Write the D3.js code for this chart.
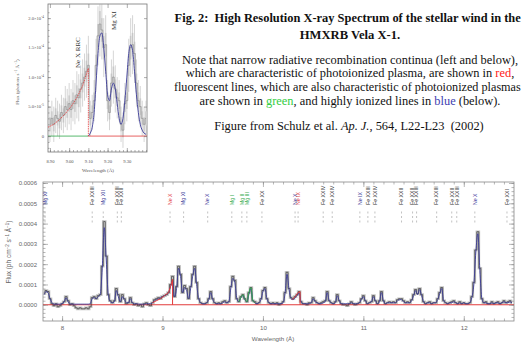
<!DOCTYPE html>
<html><head><meta charset="utf-8">
<script src="https://cdn.jsdelivr.net/npm/d3@7"></script>
<style>
html,body{margin:0;padding:0;background:#fff;}
svg{display:block;}
</style></head>
<body>
<svg id="fig" width="523" height="346"></svg>
<script>
// ===== DATA (flux in units of 1e-5 ph cm^-2 s^-1 A^-1) =====
// main spectrum: bins of 0.02 A starting at 7.82 A
const specStart = 7.82, specStep = 0.02;
const specFlux = [
 5.5,7,6.5,3,0.5,-0.5,0.5,-1,-0.5,0.5,
 1.5,4,2,0,0.5,-0.5,-1.5,-2,-1.5,-2,
 -2,-1.5,-2,-1,3.5,4,3,4.5,5,19,
 41,24,5,2,1,2,8,5,1.5,5,
 3,0.5,1,3.5,1,0,0.5,-0.5,0,-1,
 0.5,1,0,-0.5,1,2.5,3,3.5,3,4,
 4.5,5,6,10,14,4,9,19,15,6,
 9.5,8,3,9,15,19,11,3,1,0.5,
 0.5,1,3,6.5,3,1,0.5,1,0.5,1.5,
 2,1,1.5,9,14,12,3,1.5,4,5,
 3,1.5,6,8.5,2,1.5,0.5,1,3,7,
 8.5,3,1,0.5,1,0.5,1,0,0.5,1.5,
 6,16,8,3.5,3,4,5,6.5,1.5,0.5,
 0.5,0,1,1,3.5,2,1,0.5,1,1.5,
 2,6.5,2,1,0.5,1.5,5,2,0.5,0,
 0,-0.5,0.5,1.5,0.5,0,0.5,1,3,4.5,
 2,0.5,1,1.5,4.5,2,0.5,2,6.5,2,
 0.5,1,1.5,1,1.5,1,2.5,3,3,2,
 1,1.5,1,2.5,5,7.5,5.5,8,5,1.5,
 0.5,1,1.5,0.5,1,1,3,6,8.5,2,
 1,0.5,1,1.5,2,1,0.5,1.5,0.5,1,
 0.5,0.5,1,4,11,27,36,18,3,1,
 1.5,0.5,0.5,1.5,0.5,1,1.5,0.5,1,2,
 1,1.5,2,1
];
const modelFlux = [
 5,6.5,6,3,1,0.3,0.3,0.3,0.3,0.5,
 1.5,3.5,1.5,0.5,0.3,0.3,0.3,0.3,0.3,0.3,
 0.3,0.3,0.3,0.5,3,3.5,3,4,5,18,
 38,22,5,1.5,1,1.5,7,4,1.5,4,
 2.5,1,1,3,1,0.5,0.5,0.3,0.3,0.3,
 0.3,0.5,0.5,0.5,1,2,2.5,3,3.5,4,
 4.5,5,6,9,12,4,8,18,14,6,
 8.5,7,3,8,14,18,10,3,1,0.5,
 0.5,1,2.5,6,2.5,1,0.5,0.5,0.5,1,
 1.5,1,1.5,8,13,11,3,1.5,3.5,4.5,
 2.5,1.5,5,8,2,1,0.5,1,2.5,6.5,
 8,3,1,0.5,0.5,0.5,0.5,0.5,0.5,1,
 5.5,15,7.5,3,2.5,3.5,4.5,6,1.5,0.5,
 0.5,0.5,0.5,1,3,1.5,1,0.5,0.5,1,
 1.5,6,2,1,0.5,1,4.5,2,0.5,0.5,
 0.5,0.5,0.5,1,0.5,0.5,0.5,1,2.5,4,
 2,0.5,1,1.5,4,2,0.5,1.5,6,2,
 0.5,1,1,1,1,1,2,2.5,2.5,1.5,
 1,1,1,2,4.5,7,5,7.5,4.5,1.5,
 0.5,1,1,0.5,1,1,2.5,5.5,8,2,
 1,0.5,1,1,1.5,1,0.5,1,0.5,1,
 0.5,0.5,1,3.5,10,26,35,17,3,1,
 1,0.5,0.5,1,0.5,1,1,0.5,1,1.5,
 1,1,1.5,1
];
// radiative recombination continua (red) and fluorescent lines (green)
const rrcNeXWave = [8.90,8.94,8.98,9.02,9.06,9.08,9.10,9.10];
const rrcNeXFlux = [1,2,3,4.5,6,9,12.5,0];
const rrcNeIXWave = [10.29,10.32,10.35,10.37,10.37];
const rrcNeIXFlux = [2.5,4,6,6.5,0];
const fluorWave = [9.76,9.78,9.80,9.82,9.84,9.86,9.88,9.90,9.92];
const fluorFlux = [1.5,3.5,5,3,1.5,6,8.5,2,1];
const continuumWave = [7.81,12.5];
const continuumFlux = [0,0];
// line identifications
const labelText = ["Mg XI","Fe XXIII","Mg XII","Fe XXIII","Fe XXII","Ne X","Mg XI","Ne X","Mg I","Mg II","Mg III","Fe XX","Ne X","Ne IX","Fe XXIV","Fe XXIV","Ne IX","Fe XXIII","Fe XXIV","Fe XXII","Fe XXII","Fe XXIII","Fe XXIII","Fe XXII","Fe XXIII","Ne X","Fe XXI"];
const labelWave = [7.83,8.30,8.41,8.55,8.59,9.075,9.21,9.45,9.69,9.79,9.84,9.99,10.32,10.35,10.60,10.69,10.965,11.045,11.115,11.38,11.49,11.53,11.73,11.88,11.93,12.11,12.43];
const labelKind = ["hi","fe","hi","fe","fe","rrc","hi","hi","fl","fl","fl","fe","hi","rrc","fe","fe","hi","fe","fe","fe","fe","fe","fe","fe","fe","hi","fe"];
const mainXTicks = [8,9,10,11,12];
const mainYTicks = [0,10,20,30,40,50,60];

// inset: Ne X RRC + Mg XI region, bins of 0.01 A starting at 8.90
const insetStart = 8.90, insetStep = 0.01;
const insetFlux = [2,3,2,3.5,3,2.5,4,3.5,5,4.5,
 5.5,4.5,6,5.5,7,6.5,8,9,10,11,
 12,3,4,6,12,17,19,18,15,15.5,
 6,4,9,10,8,6.5,6,2,1,5.5,
 6,12,15,15.5,14,9,6,5,3,2,3];
const insetErr = [3,3,3,3,3,3,3,3,3.5,3.5,
 3.5,3.5,3.5,3.5,4,4,4,4,4,4.5,
 5,3,3,3.5,4.5,5,5.5,5,5,5,
 3.5,3,4,4.5,4,3.5,3.5,3,3,3.5,
 3.5,4.5,5,5,5,4,3.5,3.5,3,3,3];
const insetModelWave = [9.10,9.11,9.12,9.13,9.14,9.15,9.16,9.17,9.18,9.19,9.20,9.21,9.22,9.23,9.24,9.25,9.26,9.27,9.28,9.29,9.30,9.31,9.32,9.33,9.34,9.35,9.36,9.37,9.38,9.39,9.40];
const insetModelFlux = [0,0.5,1.5,4,9,14,17,17.5,15,11,7,6,8,9,8,5.5,3,2,3,6,10,14,15.5,14.5,11,7,4,2,1,0.5,0.3];
const insetRrcWave = [8.89,8.92,8.95,8.98,9.01,9.04,9.07,9.10,9.10];
const insetRrcFlux = [1.5,2,2.8,3.8,5,6.5,8.5,11.5,0];
const insetXTicks = [8.90,9.00,9.10,9.20,9.30];
const insetYTicks = [0,5,10,15,20];
const insetYTickLabels = ["0","5.0\u00d710","1.0\u00d710","1.5\u00d710","2.0\u00d710"];
const insetYTickExp = ["","-5","-4","-4","-4"];

// ===== DRAW =====
const svg = d3.select("#fig");
const BLUE = "#3b3b98", RED = "#e23b3b", GREEN = "#2fa84a", DARK = "#3a3a3a";
const kindColor = {hi: BLUE, fe: "#333", rrc: RED, fl: GREEN};
const SANS = "'Liberation Sans', Arial, sans-serif";
const SERIF = "'Liberation Serif', 'Times New Roman', serif";

// ---------- main panel ----------
const x = d3.scaleLinear().domain([7.81, 12.5]).range([43, 514]);
const y = d3.scaleLinear().domain([-8, 60.5]).range([321, 182]);
const main = svg.append("g");
main.append("rect").attr("x",43).attr("y",182).attr("width",471).attr("height",139)
  .attr("fill","#fff").attr("stroke","#888").attr("stroke-width",0.8);

const specPts = specFlux.map((f,i)=>[specStart + i*specStep, f]);
const modelPts = modelFlux.map((f,i)=>[specStart + i*specStep, f]);
const lineStep = d3.line().x(d=>x(d[0])).y(d=>y(d[1])).curve(d3.curveStep);
const lineSmooth = d3.line().x(d=>x(d[0])).y(d=>y(d[1])).curve(d3.curveMonotoneX);
const lineLin = d3.line().x(d=>x(d[0])).y(d=>y(d[1]));

// error halo
main.append("path").attr("d", lineStep(specPts)).attr("fill","none")
  .attr("stroke","#c4c4c4").attr("stroke-width",2.6);
// continuum
main.append("path").attr("d", lineLin(continuumWave.map((w,i)=>[w,continuumFlux[i]])))
  .attr("fill","none").attr("stroke",RED).attr("stroke-width",1.1);
// data
main.append("path").attr("d", lineStep(specPts)).attr("fill","none")
  .attr("stroke",DARK).attr("stroke-width",0.7);
// model
main.append("path").attr("d", lineSmooth(modelPts)).attr("fill","none")
  .attr("stroke",BLUE).attr("stroke-width",0.9);
// rrc
[[rrcNeXWave,rrcNeXFlux],[rrcNeIXWave,rrcNeIXFlux]].forEach(([w,f])=>{
  main.append("path").attr("d", lineLin(w.map((v,i)=>[v,f[i]]))).attr("fill","none")
    .attr("stroke",RED).attr("stroke-width",1);
});
// fluorescent
main.append("path").attr("d", lineSmooth(fluorWave.map((v,i)=>[v,fluorFlux[i]]))).attr("fill","none")
  .attr("stroke",GREEN).attr("stroke-width",1);

// axes ticks (inward)
const gx = main.append("g").attr("transform","translate(0,321)")
  .call(d3.axisBottom(x).tickValues(mainXTicks).tickSize(-5).tickPadding(5).tickFormat(d3.format("d")));
const gxm = main.append("g").attr("transform","translate(0,321)")
  .call(d3.axisBottom(x).tickValues(d3.range(7.9,12.5,0.1)).tickSize(-2.5).tickFormat(""));
const gxt = main.append("g").attr("transform","translate(0,182)")
  .call(d3.axisTop(x).tickValues(mainXTicks).tickSize(-5).tickFormat(""));
const gxtm = main.append("g").attr("transform","translate(0,182)")
  .call(d3.axisTop(x).tickValues(d3.range(7.9,12.5,0.1)).tickSize(-2.5).tickFormat(""));
const gy = main.append("g").attr("transform","translate(43,0)")
  .call(d3.axisLeft(y).tickValues(mainYTicks).tickSize(-5).tickPadding(6).tickFormat(d=>(d*1e-5).toFixed(4)));
const gym = main.append("g").attr("transform","translate(43,0)")
  .call(d3.axisLeft(y).tickValues(d3.range(-6,61,2)).tickSize(-2.5).tickFormat(""));
const gyr = main.append("g").attr("transform","translate(514,0)")
  .call(d3.axisRight(y).tickValues(mainYTicks).tickSize(-5).tickFormat(""));
const gyrm = main.append("g").attr("transform","translate(514,0)")
  .call(d3.axisRight(y).tickValues(d3.range(-6,61,2)).tickSize(-2.5).tickFormat(""));
[gx,gxm,gxt,gxtm,gy,gym,gyr,gyrm].forEach(g=>{
  g.select(".domain").remove();
  g.selectAll("line").attr("stroke","#888").attr("stroke-width",0.6);
  g.selectAll("text").attr("font-family",SANS).attr("font-size",6.2).attr("fill","#666");
});
gy.selectAll("text").attr("font-size",6);

// axis titles
main.append("text").attr("x",273).attr("y",341).attr("text-anchor","middle")
  .attr("font-family",SANS).attr("font-size",6.2).attr("fill","#666")
  .text("Wavelength (\u00c5)");
const yt = main.append("text").attr("transform","translate(11,252) rotate(-90)").attr("text-anchor","middle")
  .attr("font-family",SANS).attr("font-size",6.5).attr("fill","#666");
yt.append("tspan").text("Flux (ph cm");
yt.append("tspan").attr("dy",-2.5).attr("font-size",4.5).text("\u22122");
yt.append("tspan").attr("dy",2.5).text(" s");
yt.append("tspan").attr("dy",-2.5).attr("font-size",4.5).text("\u22121");
yt.append("tspan").attr("dy",2.5).text(" \u00c5");
yt.append("tspan").attr("dy",-2.5).attr("font-size",4.5).text("\u22121");
yt.append("tspan").attr("dy",2.5).text(")");

// line ids
const lab = main.append("g");
labelText.forEach((t,i)=>{
  const lx = x(labelWave[i]);
  lab.append("text").attr("transform",`translate(${lx+1.8},205) rotate(-90)`)
    .attr("font-family",SANS).attr("font-size",5.2)
    .attr("fill",kindColor[labelKind[i]]).text(t);
  [[211.5,213.5],[216,218],[220.5,222.5]].forEach(([a,b])=>{
    lab.append("line").attr("x1",lx).attr("x2",lx).attr("y1",a).attr("y2",b)
      .attr("stroke","#999").attr("stroke-width",0.6);
  });
});

// ---------- inset ----------
const xi = d3.scaleLinear().domain([8.89, 9.405]).range([48, 147]);
const yi = d3.scaleLinear().domain([-2.7, 22.4]).range([152, 4]);
const ins = svg.append("g");
ins.append("rect").attr("x",48).attr("y",4).attr("width",99).attr("height",148)
  .attr("fill","#fff").attr("stroke","#777").attr("stroke-width",0.8);
const insPts = insetFlux.map((f,i)=>[insetStart + i*insetStep, f, insetErr[i]]);
const iStep = d3.line().x(d=>xi(d[0])).y(d=>yi(d[1])).curve(d3.curveStep);
const iSmooth = d3.line().x(d=>xi(d[0])).y(d=>yi(d[1])).curve(d3.curveMonotoneX);
const iLin = d3.line().x(d=>xi(d[0])).y(d=>yi(d[1]));
// shaded bins
ins.selectAll("rect.bin").data(insPts).enter().append("rect").attr("class","bin")
  .attr("x",d=>xi(d[0]-insetStep/2)).attr("width",d=>xi(d[0]+insetStep/2)-xi(d[0]-insetStep/2))
  .attr("y",d=>yi(d[1]+d[2]*0.4)).attr("height",d=>yi(d[1]-d[2]*0.4)-yi(d[1]+d[2]*0.4))
  .attr("fill","#dedede");
// error bars
ins.selectAll("line.err").data(insPts).enter().append("line").attr("class","err")
  .attr("x1",d=>xi(d[0])).attr("x2",d=>xi(d[0]))
  .attr("y1",d=>Math.max(4,yi(d[1]+d[2]))).attr("y2",d=>Math.min(152,yi(d[1]-d[2])))
  .attr("stroke","#aaa").attr("stroke-width",0.5);
// zero lines
ins.append("line").attr("x1",xi(8.89)).attr("x2",xi(9.10)).attr("y1",yi(0)).attr("y2",yi(0))
  .attr("stroke",GREEN).attr("stroke-width",0.8);
ins.append("line").attr("x1",xi(9.10)).attr("x2",xi(9.405)).attr("y1",yi(0)).attr("y2",yi(0))
  .attr("stroke",RED).attr("stroke-width",0.8);
// data histogram
ins.append("path").attr("d", iStep(insPts)).attr("fill","none").attr("stroke","#888").attr("stroke-width",0.6);
// model
ins.append("path").attr("d", iSmooth(insetModelWave.map((w,i)=>[w,insetModelFlux[i]])))
  .attr("fill","none").attr("stroke",BLUE).attr("stroke-width",0.9);
ins.append("path").attr("d", iLin(insetRrcWave.map((w,i)=>[w,insetRrcFlux[i]])))
  .attr("fill","none").attr("stroke",RED).attr("stroke-width",0.8).attr("stroke-dasharray","1.5,0.8");
// inset axes
const ix = ins.append("g").attr("transform","translate(0,152)")
  .call(d3.axisBottom(xi).tickValues(insetXTicks).tickSize(-4).tickPadding(8).tickFormat(d3.format(".2f")));
const ixm = ins.append("g").attr("transform","translate(0,152)")
  .call(d3.axisBottom(xi).tickValues(d3.range(8.90,9.405,0.02)).tickSize(-2).tickFormat(""));
const ixt = ins.append("g").attr("transform","translate(0,4)")
  .call(d3.axisTop(xi).tickValues(insetXTicks).tickSize(-4).tickFormat(""));
const iy = ins.append("g").attr("transform","translate(48,0)")
  .call(d3.axisLeft(yi).tickValues(insetYTicks).tickSize(-3).tickPadding(4).tickFormat(""));
const iym = ins.append("g").attr("transform","translate(48,0)")
  .call(d3.axisLeft(yi).tickValues(d3.range(-2,22,1)).tickSize(-1.5).tickFormat(""));
const iyr = ins.append("g").attr("transform","translate(147,0)")
  .call(d3.axisRight(yi).tickValues(insetYTicks).tickSize(-3).tickFormat(""));
[ix,ixm,ixt,iy,iym,iyr].forEach(g=>{
  g.select(".domain").remove();
  g.selectAll("line").attr("stroke","#777").attr("stroke-width",0.6);
  g.selectAll("text").attr("font-family",SERIF).attr("font-size",4.6).attr("fill","#555");
});
// inset y tick labels with exponent
insetYTicks.forEach((v,i)=>{
  const t = ins.append("text").attr("x",44).attr("y",yi(v)+1.5).attr("text-anchor","end")
    .attr("font-family",SERIF).attr("font-size",4.6).attr("fill","#555");
  t.append("tspan").text(insetYTickLabels[i]);
  if (insetYTickExp[i]) t.append("tspan").attr("dy",-1.8).attr("font-size",3.4).text(insetYTickExp[i]);
});
ins.append("text").attr("x",98).attr("y",172).attr("text-anchor","middle")
  .attr("font-family",SERIF).attr("font-size",5).attr("fill","#555")
  .text("Wavelength (\u00c5)");
const iyt = ins.append("text").attr("transform","translate(19,82) rotate(-90)").attr("text-anchor","middle")
  .attr("font-family",SERIF).attr("font-size",5).attr("fill","#555");
iyt.append("tspan").text("Flux (photons s");
iyt.append("tspan").attr("dy",-1.8).attr("font-size",3.6).text("\u22121");
iyt.append("tspan").attr("dy",1.8).text(" \u00c5");
iyt.append("tspan").attr("dy",-1.8).attr("font-size",3.6).text("\u22121");
iyt.append("tspan").attr("dy",1.8).text(")");
ins.append("text").attr("transform",`translate(${xi(9.055)},68) rotate(-90)`)
  .attr("font-family",SERIF).attr("font-size",7).attr("fill","#333")
  .text("Ne X RRC");
ins.append("text").attr("transform",`translate(${xi(9.245)},30) rotate(-90)`)
  .attr("font-family",SERIF).attr("font-size",7).attr("fill","#333")
  .text("Mg XI");

// ---------- caption text ----------
const cap = svg.append("g").attr("font-family",SERIF).attr("fill","#111");
const capTexts = [];
capTexts.push(cap.append("text").attr("x",350).attr("y",22).attr("text-anchor","middle").attr("font-weight","bold")
  .attr("font-size",12.6).text("Fig. 2:\u00a0 High Resolution X-ray Spectrum of the stellar wind in the"));
capTexts.push(cap.append("text").attr("x",350).attr("y",38.5).attr("text-anchor","middle").attr("font-weight","bold")
  .attr("font-size",12.6).text("HMXRB Vela X-1."));
const para = [
  [["Note that narrow radiative recombination continua (left and below),",null]],
  [["which are characteristic of photoionized plasma, are shown in ",null],["red","#ff2020"],[",",null]],
  [["fluorescent lines, which are also characteristic of photoionized plasmas",null]],
  [["are shown in ",null],["green","#33cc44"],[", and highly ionized lines in ",null],["blue","#4040b0"],[" (below).",null]]
];
para.forEach((parts,i)=>{
  const t = cap.append("text").attr("x",350).attr("y",63.5+i*13.9).attr("text-anchor","middle").attr("font-size",12.4);
  parts.forEach(([s,c])=>{ const ts = t.append("tspan").text(s); if(c) ts.attr("fill",c); });
  capTexts.push(t);
});
const cit = cap.append("text").attr("x",349).attr("y",129.5).attr("text-anchor","middle").attr("font-size",12.4);
cit.append("tspan").text("Figure from Schulz et al. ");
cit.append("tspan").attr("font-style","italic").text("Ap. J.");
cit.append("tspan").text(", 564, L22-L23\u00a0 (2002)");
// keep caption lines inside the page: keep left edge, shrink to fit right margin
capTexts.forEach(t=>{
  const n = t.node(), b = n.getBBox();
  const right = b.x + b.width;
  if (right > 521) {
    const left = Math.max(b.x, 158);
    const fs = +t.attr("font-size") * (521 - left) / b.width;
    t.attr("font-size", fs).attr("x", left + (521 - left) / 2);
  }
});
</script>
</body></html>
